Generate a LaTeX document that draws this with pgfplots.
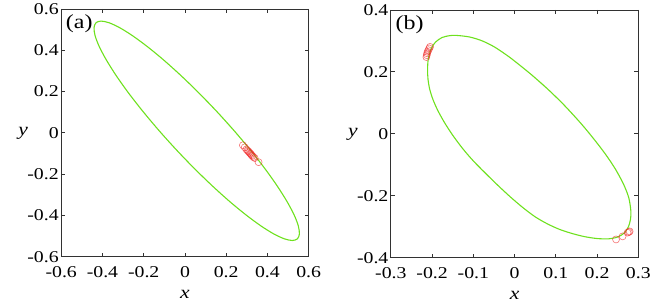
\documentclass[border=0pt]{standalone}
\usepackage{fontspec}
\setmainfont{Liberation Serif}[FakeStretch=1.2]
\usepackage{pgfplots}
\pgfplotsset{compat=1.18}
\definecolor{curve}{RGB}{110,225,30}
\definecolor{mk}{RGB}{240,40,40}
\definecolor{axc}{RGB}{50,50,50}
\pgfplotsset{
  myax/.style={
    scale only axis, width=247.7pt, height=248pt, anchor=south west,
    axis line style={axc, line width=0.9pt},
    tick style={axc, line width=0.9pt},
    major tick length=4pt, tick align=inside,
    tick label style={font=\fontsize{16.5}{19}\selectfont},
    xticklabel style={yshift=-6pt},
    yticklabel style={xshift=1pt},
    every axis x label/.style={at={(axis description cs:0.5,0)}, anchor=center, yshift=-38pt, font=\fontsize{18}{20}\selectfont},
    every axis y label/.style={at={(axis description cs:0,0.5)}, anchor=center, xshift=-38pt, font=\fontsize{18}{20}\selectfont},
    xlabel={\textit{x}}, ylabel={\textit{y}},
  },
  curvestyle/.style={curve, line width=1.1pt, smooth},
  markstyle/.style={only marks, mark=o, mark size=3.5pt, mk, mark options={line width=0.6pt, opacity=0.65}},
}
\begin{document}
\begin{tikzpicture}[x=1pt,y=1pt]
\path (0,0) rectangle (654,308);
% ---------- (a)
\begin{axis}[myax, at={(61.3pt,51pt)},
  xmin=-0.6, xmax=0.6, ymin=-0.6, ymax=0.6,
  xtick={-0.6,-0.4,-0.2,0,0.2,0.4,0.6},
  xticklabels={-0.6,-0.4,-0.2,0,0.2,0.4,0.6},
  ytick={-0.6,-0.4,-0.2,0,0.2,0.4,0.6},
  yticklabels={-0.6,-0.4,-0.2,0,0.2,0.4,0.6}]
\addplot[markstyle] coordinates {
(0.281,-0.060) (0.290,-0.070) (0.298,-0.080) (0.304,-0.086) (0.308,-0.090)
(0.312,-0.095) (0.316,-0.099) (0.320,-0.103) (0.323,-0.108) (0.327,-0.112)
(0.332,-0.117) (0.338,-0.122) (0.357,-0.142)};
\addplot[curvestyle] coordinates {
(0.2390,0.0098)
(0.1557,0.1021) (0.0694,0.1916) (-0.0173,0.2755) (-0.1017,0.3515) (-0.1813,0.4169)
(-0.2536,0.4701) (-0.3165,0.5094) (-0.3681,0.5333) (-0.4068,0.5414) (-0.4313,0.5334)
(-0.4410,0.5094) (-0.4357,0.4703) (-0.4153,0.4172) (-0.3804,0.3517) (-0.3325,0.2759)
(-0.2727,0.1919) (-0.2027,0.1025) (-0.1250,0.0102) (-0.0417,-0.0821) (0.0446,-0.1716)
(0.1313,-0.2555) (0.2157,-0.3315) (0.2953,-0.3969) (0.3676,-0.4501) (0.4305,-0.4894)
(0.4821,-0.5133) (0.5208,-0.5214) (0.5453,-0.5134) (0.5550,-0.4894) (0.5497,-0.4503)
(0.5293,-0.3972) (0.4944,-0.3317) (0.4465,-0.2559) (0.3867,-0.1719) (0.3167,-0.0825)
(0.2390,0.0098) (0.1557,0.1021) (0.0694,0.1916)};
\node[anchor=north west, inner sep=0pt, font=\fontsize{20}{22}\selectfont] at (rel axis cs:0.018,0.978) {(a)};
\end{axis}
% ---------- (b)
\begin{axis}[myax, at={(391.3pt,50pt)},
  xmin=-0.3, xmax=0.3, ymin=-0.4, ymax=0.4,
  xtick={-0.3,-0.2,-0.1,0,0.1,0.2,0.3},
  xticklabels={-0.3,-0.2,-0.1,0,0.1,0.2,0.3},
  ytick={-0.4,-0.2,0,0.2,0.4},
  yticklabels={-0.4,-0.2,0,0.2,0.4}]
\addplot[markstyle] coordinates {
(-0.214,0.248) (-0.213,0.254) (-0.212,0.260) (-0.211,0.265) (-0.209,0.270)
(-0.207,0.276) (-0.205,0.281)
(0.246,-0.341) (0.262,-0.331) (0.274,-0.319) (0.277,-0.317) (0.279,-0.315)};
\addplot[curvestyle] coordinates {
(0.0,0.235)
(0.04,0.192) (0.08,0.145) (0.12,0.093) (0.16,0.035) (0.19,-0.013)
(0.22,-0.065) (0.245,-0.115) (0.265,-0.165) (0.277,-0.207) (0.282,-0.250)
(0.281,-0.276) (0.276,-0.300) (0.266,-0.320) (0.250,-0.333) (0.228,-0.339)
(0.20,-0.338) (0.17,-0.332) (0.14,-0.322) (0.11,-0.309) (0.08,-0.291)
(0.05,-0.268) (0.02,-0.238) (-0.01,-0.204) (-0.04,-0.167) (-0.07,-0.128)
(-0.10,-0.0875) (-0.125,-0.049) (-0.150,-0.0045) (-0.170,0.0365) (-0.186,0.075)
(-0.198,0.111) (-0.206,0.145) (-0.210,0.177) (-0.211,0.207) (-0.2095,0.240)
(-0.203,0.273) (-0.192,0.296) (-0.176,0.311) (-0.158,0.317) (-0.142,0.318)
(-0.11,0.313) (-0.08,0.301) (-0.05,0.2815) (-0.02,0.255) (0.0,0.235)
(0.04,0.192) (0.08,0.145)};
\node[anchor=north west, inner sep=0pt, font=\fontsize{20}{22}\selectfont] at (rel axis cs:0.018,0.978) {(b)};
\end{axis}
\end{tikzpicture}
\end{document}
